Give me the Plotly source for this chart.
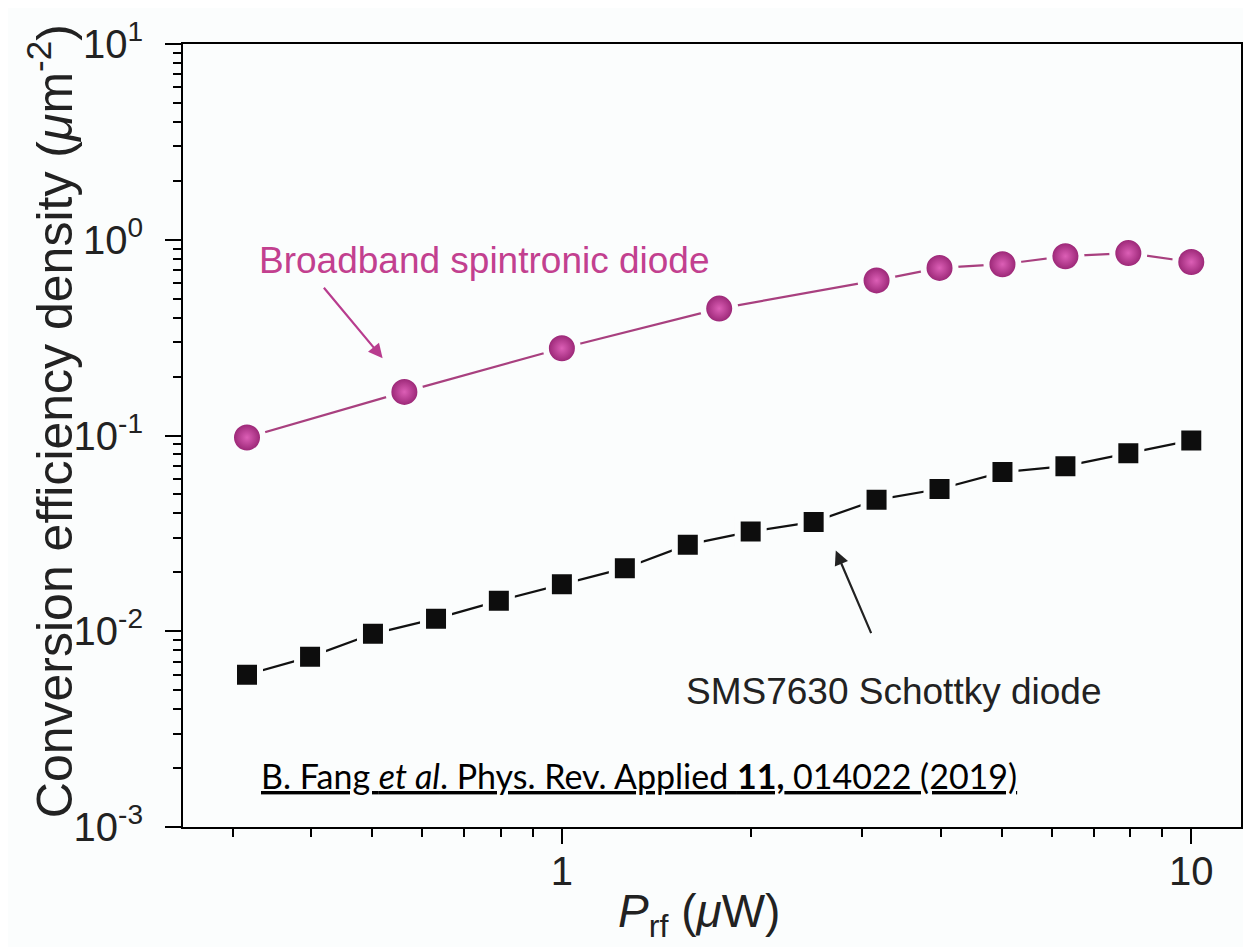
import plotly.graph_objects as go

# ---- data ----
p_schottky = [0.316, 0.398, 0.501, 0.631, 0.794, 1.0, 1.259, 1.585, 1.995, 2.512,
              3.162, 3.981, 5.012, 6.310, 7.943, 10.0]
eff_schottky = [0.0060, 0.0074, 0.0097, 0.0116, 0.0143, 0.0174, 0.0210, 0.0277, 0.0323, 0.0362,
                0.0469, 0.0533, 0.0650, 0.0697, 0.0811, 0.0944]

p_spin = [0.316, 0.562, 1.0, 1.778, 3.162, 3.981, 5.012, 6.310, 7.943, 10.0]
eff_spin = [0.0977, 0.167, 0.279, 0.445, 0.62, 0.718, 0.75, 0.824, 0.855, 0.77]

y_tickvals = [1e-3, 1e-2, 1e-1, 1, 10]
y_ticktext = ["10<sup>-3</sup>", "10<sup>-2</sup>", "10<sup>-1</sup>", "10<sup>0</sup>", "10<sup>1</sup>"]
x_tickvals = [1, 10]
x_ticktext = ["1", "10"]

BG = "#fbfdfd"
MAGENTA = "#b83c8e"
FONT = "Liberation Sans, Arial, sans-serif"

y_minor = [m * 10.0 ** e for e in range(-3, 1) for m in range(2, 10)]
x_minor = [m * 10.0 ** e for e in range(-1, 1) for m in range(2, 10)]

fig = go.Figure()

fig.add_trace(go.Scatter(
    x=p_schottky, y=eff_schottky, mode="lines+markers",
    line=dict(color="#111111", width=2.2),
    marker=dict(symbol="square", size=26, color="#0d0d0d",
                line=dict(color=BG, width=6)),
    showlegend=False,
))

fig.add_trace(go.Scatter(
    x=p_spin, y=eff_spin, mode="lines+markers",
    line=dict(color="#a8407f", width=2.2),
    marker=dict(symbol="circle", size=32, color="#8e1c6a",
                gradient=dict(type="radial", color="#dc5fb6"),
                line=dict(color=BG, width=6)),
    showlegend=False,
))

axis_common = dict(
    showline=True, linecolor="black", linewidth=2, mirror=True,
    ticks="outside", tickcolor="black", tickwidth=2,
    showgrid=False, zeroline=False,
    tickfont=dict(family=FONT, size=40, color="#222222"),
)

fig.update_xaxes(
    type="log", range=[-0.602, 1.079],
    tickmode="array", tickvals=x_tickvals, ticktext=x_ticktext,
    ticklen=15, ticklabelstandoff=-7,
    minor=dict(tickmode="array", tickvals=x_minor, ticks="outside", ticklen=8,
               tickwidth=2, tickcolor="black", showgrid=False),
    **axis_common,
)
fig.update_yaxes(
    type="log", range=[-3, 1],
    tickmode="array", tickvals=y_tickvals, ticktext=y_ticktext,
    ticklen=16, ticklabelstandoff=14,
    minor=dict(tickmode="array", tickvals=y_minor, ticks="outside", ticklen=8,
               tickwidth=2, tickcolor="black", showgrid=False),
    **axis_common,
)

annotations = [
    # y-axis title
    dict(text="Conversion efficiency density (<i>μ</i>m<sup>-2</sup>)",
         xref="paper", yref="paper", x=-0.124, y=0.518, textangle=-90,
         showarrow=False, font=dict(family=FONT, size=50, color="#222222"),
         xanchor="center", yanchor="middle"),
    # x-axis title
    dict(text="<i>P</i><sub>rf</sub> (<i>μ</i>W)",
         xref="paper", yref="paper", x=0.488, y=-0.112,
         showarrow=False, font=dict(family=FONT, size=46, color="#222222"),
         xanchor="center", yanchor="middle"),
    # series labels
    dict(text="Broadband spintronic diode", xref="paper", yref="paper",
         x=0.285, y=0.724, showarrow=False,
         font=dict(family=FONT, size=37, color="#c2408f"),
         xanchor="center", yanchor="middle"),
    dict(text="SMS7630 Schottky diode", xref="paper", yref="paper",
         x=0.672, y=0.173, showarrow=False,
         font=dict(family=FONT, size=37, color="#222222"),
         xanchor="center", yanchor="middle"),
    # arrows
    dict(text="", xref="paper", yref="paper", x=0.1887, y=0.5987,
         ax=-60, ay=-72, showarrow=True, arrowhead=2, arrowsize=1.3,
         arrowwidth=2.2, arrowcolor=MAGENTA),
    dict(text="", xref="paper", yref="paper", x=0.617, y=0.353,
         ax=36, ay=84, showarrow=True, arrowhead=2, arrowsize=1.3,
         arrowwidth=2.2, arrowcolor="#222222"),
    # citation
    dict(text="<u>B. Fang <i>et al</i>. Phys. Rev. Applied <b>11,</b> 014022 (2019)</u>",
         xref="paper", yref="paper", x=0.431, y=0.066, showarrow=False,
         font=dict(family="Lato, Open Sans, sans-serif", size=34, color="black"),
         xanchor="center", yanchor="middle"),
]

fig.update_layout(
    width=1243, height=939,
    margin=dict(l=175, r=8, t=29, b=120),
    paper_bgcolor=BG, plot_bgcolor=BG,
    annotations=annotations,
    font=dict(family=FONT),
)

fig.write_html("out.html")
